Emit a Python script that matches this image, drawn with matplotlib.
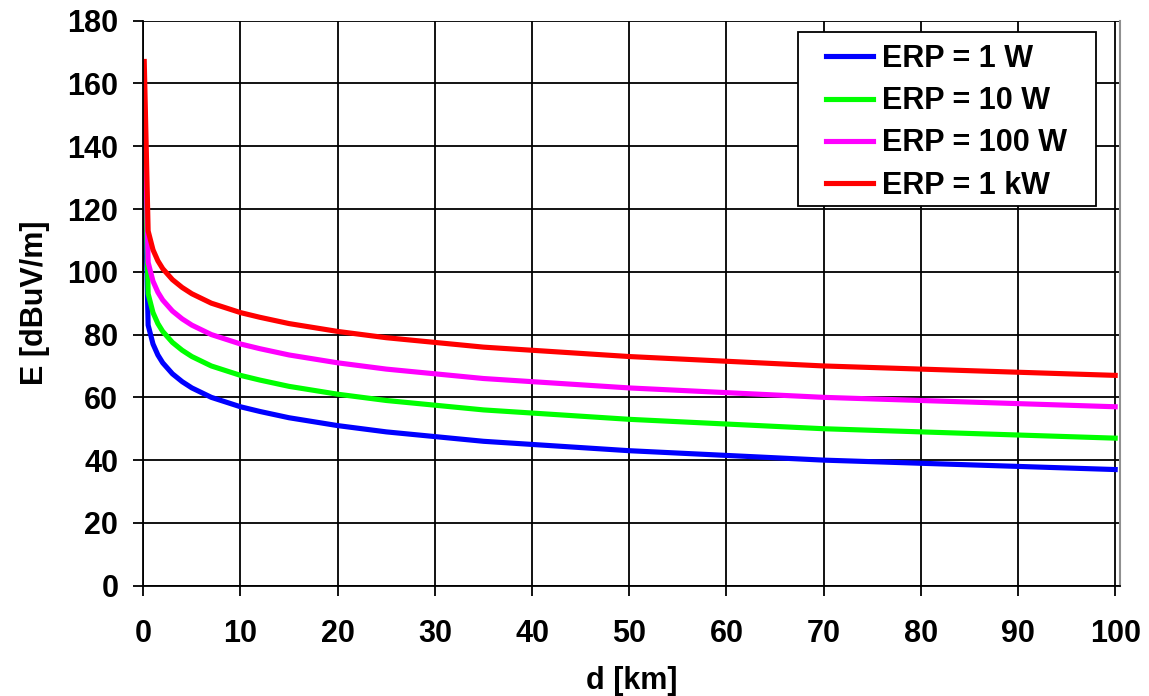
import matplotlib.pyplot as plt
from matplotlib.patches import Rectangle

plt.rcParams['font.family'] = ['Liberation Sans', 'DejaVu Sans']
plt.rcParams['font.weight'] = 'bold'

# distance in km and field strength readings in dBuV/m
d_km = [0.1, 0.5, 1, 1.5, 2, 3, 4, 5, 6, 7, 8, 10, 12, 15, 20, 25, 30,
        35, 40, 45, 50, 60, 70, 80, 90, 100]
e_1w = [137, 83, 77, 73.5, 71, 67.5, 65, 63, 61.5, 60, 59, 57, 55.5, 53.5,
        51, 49, 47.5, 46, 45, 44, 43, 41.5, 40, 39, 38, 37]
e_10w = [147, 93, 87, 83.5, 81, 77.5, 75, 73, 71.5, 70, 69, 67, 65.5, 63.5,
         61, 59, 57.5, 56, 55, 54, 53, 51.5, 50, 49, 48, 47]
e_100w = [157, 103, 97, 93.5, 91, 87.5, 85, 83, 81.5, 80, 79, 77, 75.5, 73.5,
          71, 69, 67.5, 66, 65, 64, 63, 61.5, 60, 59, 58, 57]
e_1kw = [167, 113, 107, 103.5, 101, 97.5, 95, 93, 91.5, 90, 89, 87, 85.5, 83.5,
         81, 79, 77.5, 76, 75, 74, 73, 71.5, 70, 69, 68, 67]

series = [('ERP = 1 W', e_1w, '#0000FF'),
          ('ERP = 10 W', e_10w, '#00FF00'),
          ('ERP = 100 W', e_100w, '#FF00FF'),
          ('ERP = 1 kW', e_1kw, '#FF0000')]

FS = 22
LW = 3.7

fig = plt.figure(figsize=(11.49, 6.96), dpi=100)
ax = fig.add_axes([0.1247, 0.1585, 0.8501, 0.8118])

for label, vals, col in series:
    ax.plot(d_km, vals, color=col, lw=LW, label=label, solid_joinstyle='round')

ax.set_xlim(0, 100.5)
ax.set_ylim(0, 180)
ax.set_xticks(range(0, 101, 10))
ax.set_yticks(range(0, 181, 20))
ax.grid(True, color='black', lw=1.3)
ax.set_axisbelow(True)

ax.spines['top'].set_visible(False)
ax.spines['right'].set_color('#909090')
ax.spines['right'].set_linewidth(1.5)
for s in ['left', 'bottom']:
    ax.spines[s].set_linewidth(1.3)

ax.tick_params(direction='out', length=7, width=1.3, labelsize=FS)
ax.tick_params(axis='x', pad=17)
ax.tick_params(axis='y', pad=11)
for lbl in ax.get_xticklabels() + ax.get_yticklabels():
    lbl.set_fontweight('bold')

ax.set_xlabel('d [km]', fontsize=FS, fontweight='bold', labelpad=12)
ax.set_ylabel('E [dBuV/m]', fontsize=FS, fontweight='bold', labelpad=12)

# legend box
fig.patches.append(Rectangle((798 / 1149, 1 - 206 / 696), 298 / 1149, 174 / 696,
                             transform=fig.transFigure, facecolor='white',
                             edgecolor='black', lw=1.3, zorder=5))
leg = fig.legend(loc='upper left', bbox_to_anchor=(826 / 1149, 1 - 44 / 696),
                 frameon=False, fontsize=FS, handlelength=1.55,
                 handletextpad=0.27, labelspacing=0.4, borderaxespad=0,
                 borderpad=0)
leg.set_zorder(6)
for t in leg.get_texts():
    t.set_fontweight('bold')
for h in leg.get_lines():
    h.set_linewidth(LW)

fig.savefig('out.png', dpi=100)
